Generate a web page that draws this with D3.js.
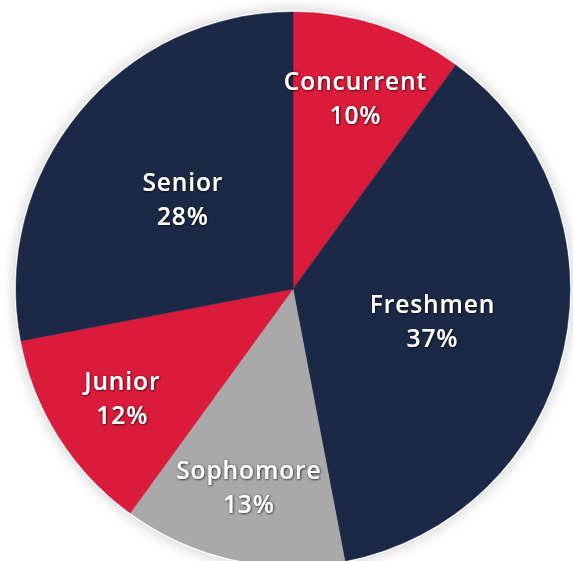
<!DOCTYPE html>
<html>
<head>
<meta charset="utf-8">
<script src="https://cdn.jsdelivr.net/npm/d3@7/dist/d3.min.js"></script>
<style>
html,body{margin:0;padding:0;background:#fff;}
svg{display:block;}
</style>
</head>
<body>
<svg id="chart" width="573" height="561"></svg>
<script>
const categories = ["Concurrent", "Freshmen", "Sophomore", "Junior", "Senior"];
const values = [10, 37, 13, 12, 28];
const colors = ["#db1b3b", "#1c2946", "#a9a9aa", "#db1b3b", "#1c2946"];

const W = 573, H = 561;
const cx = 293, cy = 289, R = 277;

const svg = d3.select("#chart");
const defs = svg.append("defs");
const glow = defs.append("filter").attr("id","glow").attr("x","-20%").attr("y","-20%").attr("width","140%").attr("height","140%");
glow.append("feGaussianBlur").attr("stdDeviation", 6);
const ts = defs.append("filter").attr("id","ts").attr("x","-10%").attr("y","-30%").attr("width","120%").attr("height","160%");
ts.append("feDropShadow").attr("dx",0.6).attr("dy",0.6).attr("stdDeviation",0.9).attr("flood-color","#000").attr("flood-opacity",0.9);

const g = svg.append("g").attr("transform", `translate(${cx},${cy})`);

g.append("circle").attr("r", R + 4).attr("fill", "#d9d9d9").attr("filter","url(#glow)");
g.append("circle").attr("r", R + 1.5).attr("fill", "#ffffff");

const pie = d3.pie().sort(null).value(d => d.v);
const data = pie(categories.map((c, i) => ({c, v: values[i], col: colors[i]})));
const arc = d3.arc().innerRadius(0).outerRadius(R);

g.selectAll("path.slice").data(data).enter().append("path")
  .attr("class","slice")
  .attr("d", arc)
  .attr("fill", d => d.data.col)
  .attr("stroke", d => d.data.col)
  .attr("stroke-width", 0.5);

const labelArc = d => {
  const lr = d.data.v > 20 ? R * 0.516 : R * 0.73;
  return d3.arc().innerRadius(lr).outerRadius(lr).centroid(d);
};

const lbl = g.selectAll("g.lbl").data(data).enter().append("g")
  .attr("class","lbl")
  .attr("transform", d => { const p = labelArc(d); return `translate(${p[0]},${p[1]})`; })
  .attr("filter","url(#ts)");

const fontCfg = s => s
  .attr("text-anchor","middle")
  .attr("font-family","'Open Sans', sans-serif")
  .attr("font-weight", 600)
  .attr("font-size", 24.5)
  .attr("letter-spacing", 0.9)
  .attr("fill","#fff");

lbl.append("text").call(fontCfg).attr("y", -7).text(d => d.data.c);
lbl.append("text").call(fontCfg).attr("y", 27).text(d => d.data.v + "%");
</script>
</body>
</html>
